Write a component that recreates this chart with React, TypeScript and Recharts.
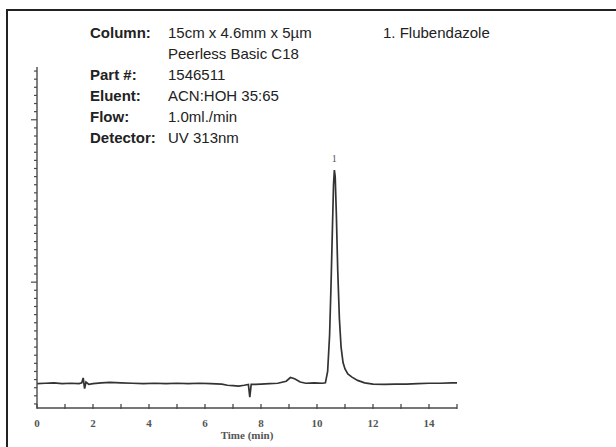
import React from "react"
import { LineChart, Line, XAxis, YAxis, ReferenceDot } from "recharts"

// chromatogram trace, time in minutes, detector signal in arbitrary units
const times = [
  0, 0.3, 0.6, 0.9, 1.2, 1.5, 1.6, 1.65, 1.7, 1.75, 1.85, 2.0, 2.3, 2.6, 3.0, 3.4, 3.8, 4.2, 4.6, 5.0,
  5.4, 5.8, 6.2, 6.6, 6.8, 7.0, 7.2, 7.4, 7.55, 7.6, 7.65, 7.8, 8.0, 8.3, 8.6, 8.9, 9.05, 9.2, 9.4, 9.6,
  9.9, 10.2, 10.3, 10.38, 10.45, 10.5, 10.55, 10.59, 10.62, 10.65, 10.69, 10.74, 10.8, 10.86, 10.93, 11.0,
  11.1, 11.25, 11.45, 11.7, 12.0, 12.4, 12.8, 13.2, 13.6, 14.0, 14.4, 14.8, 15.0,
]
const signal = [
  3.0, 3.05, 3.1, 3.0, 3.05, 3.0, 3.1, 3.7, 2.4, 3.2, 2.9, 3.0, 3.1, 3.15, 3.1, 3.05, 3.0, 3.05, 3.0, 3.05,
  3.0, 3.05, 3.0, 2.95, 2.8, 2.75, 2.7, 2.8, 2.9, 1.35, 2.9, 2.9, 2.95, 3.0, 3.05, 3.3, 3.75, 3.6, 3.2, 3.05,
  3.1, 3.05, 3.1, 4.5, 9, 15, 22, 27.5, 29.3, 28.5, 24, 17, 11, 7.5, 5.6, 4.8,
  4.2, 3.8, 3.4, 3.1, 2.95, 2.9, 2.95, 2.95, 3.0, 3.05, 3.05, 3.1, 3.1,
]

const xTicks = [0, 1, 2, 3, 4, 5, 6, 7, 8, 9, 10, 11, 12, 13, 14, 15]
const xLabels = ["0", "", "2", "", "4", "", "6", "", "8", "", "10", "", "12", "", "14", ""]
const yTicks = [
  0.5, 1.5, 2.5, 3.5, 4.5, 5.5, 6.5, 7.5, 8.5, 9.5, 10.5, 11.5, 12.5, 13.5, 14.5, 15.5, 16.5, 17.5, 18.5, 19.5,
  20.5, 21.5, 22.5, 23.5, 24.5, 25.5, 26.5, 27.5, 28.5, 29.5, 30.5, 31.5, 32.5, 33.5, 34.5, 35.5, 36.5, 37.5,
  38.5, 39.5, 40.5, 41.5,
]
const yMajor = [15.5, 35.5]

const peakTime = 10.62
const peakHeight = 29.3
const peakName = "1"

const params = [
  ["Column:", "15cm x 4.6mm x 5µm"],
  ["", "Peerless Basic C18"],
  ["Part #:", "1546511"],
  ["Eluent:", "ACN:HOH 35:65"],
  ["Flow:", "1.0ml./min"],
  ["Detector:", "UV 313nm"],
]
const compounds = ["1. Flubendazole"]

const data = times.map((t, i) => ({ t, v: signal[i] }))

const AXIS = "#4a4a4a"
const serif = "'Liberation Serif', 'DejaVu Serif', serif"
const sans = "'Liberation Sans', Arial, sans-serif"

function XTick({ x, y, index }: any) {
  return (
    <g>
      <line x1={x} x2={x} y1={y - 4} y2={y + 1} stroke={AXIS} strokeWidth={1.3} />
      <text x={x} y={y + 19} textAnchor="middle" fontFamily={serif} fontSize={11} fontWeight="bold" fill="#555">
        {xLabels[index]}
      </text>
    </g>
  )
}

function YTick({ x, y, payload }: any) {
  const len = yMajor.includes(payload.value) ? 6 : 3
  return <line x1={x - len} x2={x} y1={y} y2={y} stroke={AXIS} strokeWidth={1.2} />
}

export default function App() {
  return (
    <div style={{ position: "absolute", left: 0, top: 0, width: 616, height: 447, overflow: "hidden", background: "#fff" }}>
      <div style={{ position: "absolute", left: 6, top: 9, width: 640, height: 460, borderLeft: "2px solid #222", borderTop: "2px solid #222" }} />

      <div style={{ position: "absolute", left: 0, top: 0 }}>
        <LineChart width={616} height={447} data={data} margin={{ top: 67, right: 159, bottom: 0, left: 0 }}>
          <XAxis dataKey="t" type="number" domain={[0, 15]} ticks={xTicks} height={39} tickSize={0} tickMargin={0}
            tick={<XTick />} interval={0} stroke={AXIS} strokeWidth={1.6} />
          <YAxis type="number" domain={[0, 42]} ticks={yTicks} width={37} tickSize={0} tickMargin={0}
            tick={<YTick />} interval={0} stroke={AXIS} strokeWidth={1.4} />
          <Line type="linear" dataKey="v" stroke="#333" strokeWidth={1.7} dot={false} isAnimationActive={false} />
          <ReferenceDot x={peakTime} y={peakHeight} r={0} stroke="none"
            label={{ value: peakName, position: "top", offset: 8, fontFamily: serif, fontSize: 10, fill: "#555" }} />
        </LineChart>
        <div style={{ position: "absolute", left: 37, width: 420, top: 429, textAlign: "center", fontFamily: serif, fontSize: 11, fontWeight: "bold", color: "#555" }}>
          Time (min)
        </div>
      </div>

      <div style={{ position: "absolute", left: 90, top: 22, fontFamily: sans, fontSize: 15, lineHeight: "21px", color: "#222" }}>
        {params.map(([k, v], i) => (
          <div key={i} style={{ display: "flex" }}>
            <span style={{ width: 78, fontWeight: "bold" }}>{k}</span>
            <span>{v}</span>
          </div>
        ))}
      </div>
      <div style={{ position: "absolute", left: 383, top: 22, fontFamily: sans, fontSize: 15, lineHeight: "21px", color: "#222" }}>
        {compounds.map((c) => <div key={c}>{c}</div>)}
      </div>
    </div>
  )
}
